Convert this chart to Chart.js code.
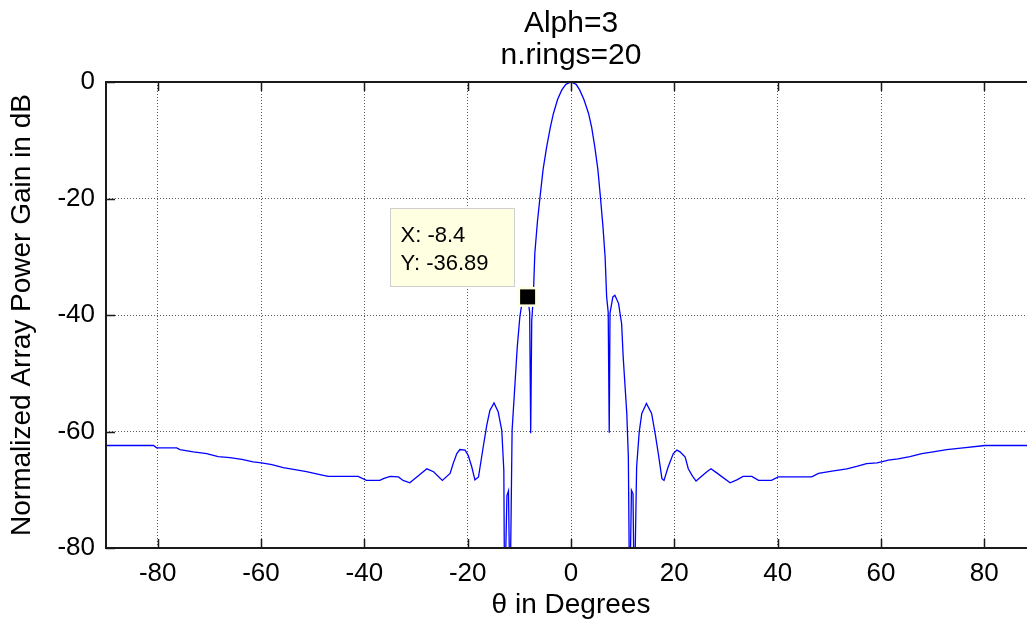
<!DOCTYPE html>
<html>
<head>
<meta charset="utf-8">
<script src="https://cdn.jsdelivr.net/npm/chart.js@4.4.1/dist/chart.umd.min.js"></script>
<style>
  html, body { margin: 0; padding: 0; background: #fff; overflow: hidden; }
  #wrap { width: 1050px; height: 623px; }
</style>
</head>
<body>
<div id="wrap"><canvas id="patternChart" width="1050" height="623"></canvas></div>
<script>
// angle (deg) and normalized gain (dB)
const thetaDeg = [
  -90, -80.8, -80.2, -76.3, -75.7, -73.1, -70.5, -68.3, -66.0, -63.7,
  -61.5, -59.9, -57.9, -55.7, -53.7, -51.2, -48.6, -47.0, -41.2, -39.6,
  -37.0, -36.3, -35.0, -33.4, -32.5, -31.2, -27.9, -26.6, -24.9, -23.4,
  -22.8, -22.1, -21.5, -20.5, -19.9, -19.2, -18.6, -17.9, -17.0, -16.3,
  -15.7, -14.9, -14.1, -13.4, -13.0, -12.85, -12.4, -12.1, -11.8, -11.4,
  -10.8, -10.4, -9.9, -9.5, -9.1, -8.8, -8.4, -8.0, -7.8, -7.6,
  -7.3, -7.0, -6.5, -6.0, -5.4, -4.7, -4.0, -3.4, -2.6, -1.8,
  -1.0, 0,
  1.0, 1.7, 2.5, 3.4, 4.0, 4.6, 5.2, 5.7, 6.2, 6.6,
  6.9, 7.2, 7.4, 7.55, 8.1, 8.5, 9.2, 9.8, 10.1, 10.8,
  11.1, 11.35, 11.7, 12.0, 12.25, 12.7, 13.2, 13.7, 14.6, 15.6,
  16.3, 16.9, 17.6, 18.0, 18.8, 19.8, 20.5, 21.1, 22.1, 22.7,
  23.4, 24.2, 26.3, 27.1, 28.2, 30.8, 32.1, 33.3, 35.0, 36.3,
  38.8, 40.1, 46.6, 47.9, 50.5, 53.4, 55.3, 57.2, 59.2, 60.1,
  61.4, 63.3, 65.6, 67.9, 70.1, 72.7, 75.9, 80.1, 90
];
const gainDb = [
  -62.4, -62.4, -62.8, -62.8, -63.1, -63.5, -63.8, -64.3, -64.5, -64.8,
  -65.2, -65.4, -65.7, -66.2, -66.5, -66.9, -67.4, -67.7, -67.7, -68.4,
  -68.4, -68.1, -67.7, -67.8, -68.4, -68.8, -66.4, -66.9, -68.4, -67.2,
  -65.5, -63.8, -63.1, -63.2, -64.1, -66.1, -68.3, -67.8, -62.7, -58.9,
  -56.4, -55.1, -56.6, -59.8, -66.7, -90, -71.0, -70.2, -90, -59.8,
  -51.2, -45.5, -40.3, -38.0, -36.6, -36.4, -36.89, -39.5, -60.3, -41.0,
  -37.0, -29.4, -24.0, -19.8, -15.0, -11.1, -7.8, -5.4, -3.0, -1.4,
  -0.4, 0,
  -0.4, -1.4, -3.0, -5.4, -7.8, -11.1, -15.0, -19.8, -25.0, -30.0,
  -36.9, -39.5, -60.2, -39.7, -36.9, -36.6, -38.0, -41.5, -47.2, -56.9,
  -64.4, -90, -70.1, -70.7, -90, -66.1, -60.1, -56.9, -55.2, -56.9,
  -60.4, -63.8, -68.1, -68.4, -66.1, -63.8, -63.2, -63.5, -64.4, -66.4,
  -67.5, -68.5, -66.9, -66.4, -67.1, -68.8, -68.3, -67.7, -67.7, -68.4,
  -68.4, -67.8, -67.8, -67.2, -66.8, -66.4, -66.0, -65.5, -65.4, -65.2,
  -64.9, -64.7, -64.3, -63.8, -63.5, -63.1, -62.8, -62.4, -62.4
];
const xTicks = [-80, -60, -40, -20, 0, 20, 40, 60, 80];
const yTicks = [0, -20, -40, -60, -80];
const tipPoint = { x: -8.4, y: -36.89 };

const FONT = '"Liberation Sans", Arial, Helvetica, sans-serif';

// black box round the axes plus MATLAB-style inward ticks
const axesFrame = {
  id: 'axesFrame',
  afterDatasetsDraw(chart) {
    const { ctx, chartArea: a, scales } = chart;
    ctx.save();
    ctx.strokeStyle = '#1a1a1a';
    ctx.lineWidth = 1.5;
    xTicks.forEach(v => {
      const px = Math.round(scales.x.getPixelForValue(v)) + 0.5;
      ctx.beginPath();
      ctx.moveTo(px, a.bottom); ctx.lineTo(px, a.bottom - 9);
      ctx.moveTo(px, a.top); ctx.lineTo(px, a.top + 9);
      ctx.stroke();
    });
    yTicks.forEach(v => {
      const py = Math.round(scales.y.getPixelForValue(v)) + 0.5;
      ctx.beginPath();
      ctx.moveTo(a.left, py); ctx.lineTo(a.left + 9, py);
      ctx.moveTo(a.right, py); ctx.lineTo(a.right - 9, py);
      ctx.stroke();
    });
    ctx.lineWidth = 2;
    ctx.strokeRect(a.left, a.top, a.right - a.left, a.bottom - a.top);
    ctx.restore();
  }
};

// data tip box like the one in the figure
const dataTip = {
  id: 'dataTip',
  afterDatasetsDraw(chart) {
    const { ctx, scales } = chart;
    const px = scales.x.getPixelForValue(tipPoint.x);
    const py = scales.y.getPixelForValue(tipPoint.y);
    const w = 124, h = 78;
    const left = Math.round(px - 14 - w) + 0.5;
    const top = Math.round(py - 11 - h) + 0.5;
    ctx.save();
    ctx.fillStyle = '#ffffe1';
    ctx.strokeStyle = '#cfcfcf';
    ctx.lineWidth = 1;
    ctx.fillRect(left, top, w, h);
    ctx.strokeRect(left, top, w, h);
    ctx.fillStyle = '#000';
    ctx.font = '22px ' + FONT;
    ctx.textBaseline = 'middle';
    ctx.fillText('X: ' + tipPoint.x, left + 10, top + 27);
    ctx.fillText('Y: ' + tipPoint.y, left + 10, top + 55);
    ctx.fillStyle = '#ffffe1';
    ctx.fillRect(px - 10, py - 10, 20, 20);
    ctx.fillStyle = '#000';
    ctx.fillRect(px - 7.5, py - 7.5, 15, 15);
    ctx.restore();
  }
};

const tickFont = { family: FONT, size: 26 };
const labelFont = { family: FONT, size: 28 };

const ctx = document.getElementById('patternChart').getContext('2d');
const patternChart = new Chart(ctx, {
  type: 'line',
  data: {
    datasets: [{
      data: thetaDeg.map((t, i) => ({ x: t, y: gainDb[i] })),
      borderColor: '#0000ff',
      borderWidth: 1.3,
      pointRadius: 0,
      tension: 0,
      fill: false
    }]
  },
  options: {
    responsive: false,
    animation: false,
    layout: { padding: { left: 0, right: 14, top: 0, bottom: 0 } },
    plugins: {
      legend: { display: false },
      tooltip: { enabled: false },
      title: {
        display: true,
        fullSize: false,
        text: ['Alph=3', 'n.rings=20'],
        color: '#000',
        font: { family: FONT, size: 30, weight: 'normal', lineHeight: 32 / 30 },
        padding: { top: 8, bottom: 10 }
      }
    },
    scales: {
      x: {
        type: 'linear',
        min: -90,
        max: 90,
        afterBuildTicks: s => { s.ticks = xTicks.map(v => ({ value: v })); },
        afterFit: s => { s.height = 75; },
        grid: { color: '#5a5a5a', lineWidth: 1, drawTicks: false },
        border: { display: false, dash: [1, 2] },
        ticks: { color: '#000', font: tickFont, padding: 10, maxRotation: 0, autoSkip: false },
        title: { display: true, text: 'θ in Degrees', color: '#000', font: labelFont, padding: { top: 0, bottom: 1 } }
      },
      y: {
        min: -80,
        max: 0,
        afterBuildTicks: s => { s.ticks = yTicks.map(v => ({ value: v })); },
        afterFit: s => { s.width = 106; },
        grid: { color: '#5a5a5a', lineWidth: 1, drawTicks: false },
        border: { display: false, dash: [1, 2] },
        ticks: { color: '#000', font: tickFont, padding: 11, autoSkip: false },
        title: { display: true, text: 'Normalized Array Power Gain in dB', color: '#000', font: labelFont, padding: { top: 5, bottom: 0 } }
      }
    }
  },
  plugins: [axesFrame, dataTip]
});
</script>
</body>
</html>
